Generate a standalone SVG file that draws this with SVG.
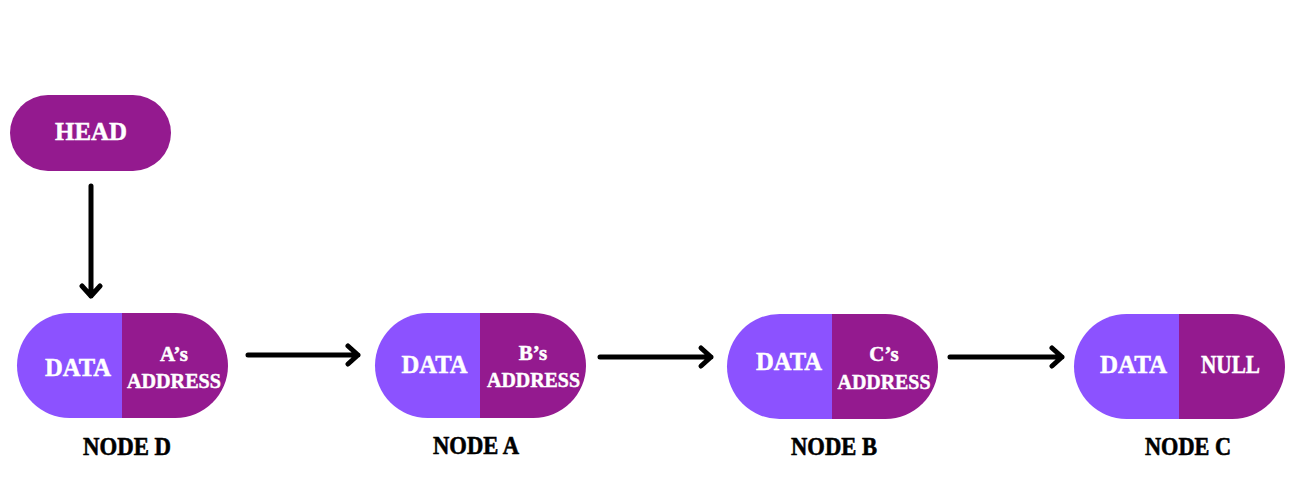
<svg xmlns="http://www.w3.org/2000/svg" width="1292" height="501" viewBox="0 0 1292 501">
<style>
.dark{fill:#941A8F}
.light{fill:#8C52FF}
.t{font-family:"Liberation Serif","DejaVu Serif",serif;font-weight:bold;fill:#fff;stroke:#fff;stroke-width:0.5;text-anchor:middle}
.lbl{font-family:"Liberation Serif","DejaVu Serif",serif;font-weight:bold;fill:#000;stroke:#000;stroke-width:0.6;text-anchor:middle;font-size:25px}
.arr{fill:none;stroke:#000;stroke-width:5;stroke-linecap:round;stroke-linejoin:round}
</style>
<defs>
<path id="lh" d="M105,0 H52.5 A52.5,52.5 0 0 0 52.5,105 H105 Z"/>
<path id="rh" d="M105,0 H158.5 A52.5,52.5 0 0 1 158.5,105 H105 Z"/>
</defs>
<rect width="1292" height="501" fill="#fff"/>
<g id="head">
<rect x="10" y="95" width="161" height="76" rx="38" class="dark"/>
<text class="t" x="91" y="140" font-size="26" textLength="72" lengthAdjust="spacingAndGlyphs">HEAD</text>
</g>
<g id="nodeD">
<use href="#lh" x="17" y="313" class="light"/>
<use href="#rh" x="17" y="313" class="dark"/>
<text class="t" x="78" y="376" font-size="26" textLength="66" lengthAdjust="spacingAndGlyphs">DATA</text>
<text class="t" x="174" y="361" font-size="21">A’s</text>
<text class="t" x="174" y="388" font-size="22" textLength="94" lengthAdjust="spacingAndGlyphs">ADDRESS</text>
<text class="lbl" x="127" y="455" textLength="88" lengthAdjust="spacingAndGlyphs">NODE D</text>
</g>
<g id="nodeA">
<use href="#lh" x="375" y="313" class="light"/>
<use href="#rh" x="375" y="313" class="dark"/>
<text class="t" x="434.5" y="373" font-size="26" textLength="66" lengthAdjust="spacingAndGlyphs">DATA</text>
<text class="t" x="533" y="360" font-size="21">B’s</text>
<text class="t" x="533.5" y="387" font-size="22" textLength="93" lengthAdjust="spacingAndGlyphs">ADDRESS</text>
<text class="lbl" x="476" y="454" textLength="86" lengthAdjust="spacingAndGlyphs">NODE A</text>
</g>
<g id="nodeB">
<use href="#lh" x="727" y="314" class="light"/>
<use href="#rh" x="727" y="314" class="dark"/>
<text class="t" x="789" y="370" font-size="26" textLength="66" lengthAdjust="spacingAndGlyphs">DATA</text>
<text class="t" x="884" y="361" font-size="21">C’s</text>
<text class="t" x="884" y="389" font-size="22" textLength="93" lengthAdjust="spacingAndGlyphs">ADDRESS</text>
<text class="lbl" x="834" y="455" textLength="86" lengthAdjust="spacingAndGlyphs">NODE B</text>
</g>
<g id="nodeC">
<use href="#lh" x="1074" y="314" class="light"/>
<use href="#rh" x="1074" y="314" class="dark"/>
<text class="t" x="1133.5" y="373" font-size="26" textLength="67" lengthAdjust="spacingAndGlyphs">DATA</text>
<text class="t" x="1230.5" y="373" font-size="26" textLength="59" lengthAdjust="spacingAndGlyphs">NULL</text>
<text class="lbl" x="1188" y="455" textLength="86" lengthAdjust="spacingAndGlyphs">NODE C</text>
</g>
<g id="connectors">
<path class="arr" d="M91,186 V296 M82,286 L91,296 L100,286"/>
<path class="arr" d="M248,355 H358 M348,346 L358,355 L348,364"/>
<path class="arr" d="M600,357 H711 M701,348 L711,357 L701,366"/>
<path class="arr" d="M950,357 H1062 M1052,348 L1062,357 L1052,366"/>
</g>
</svg>
